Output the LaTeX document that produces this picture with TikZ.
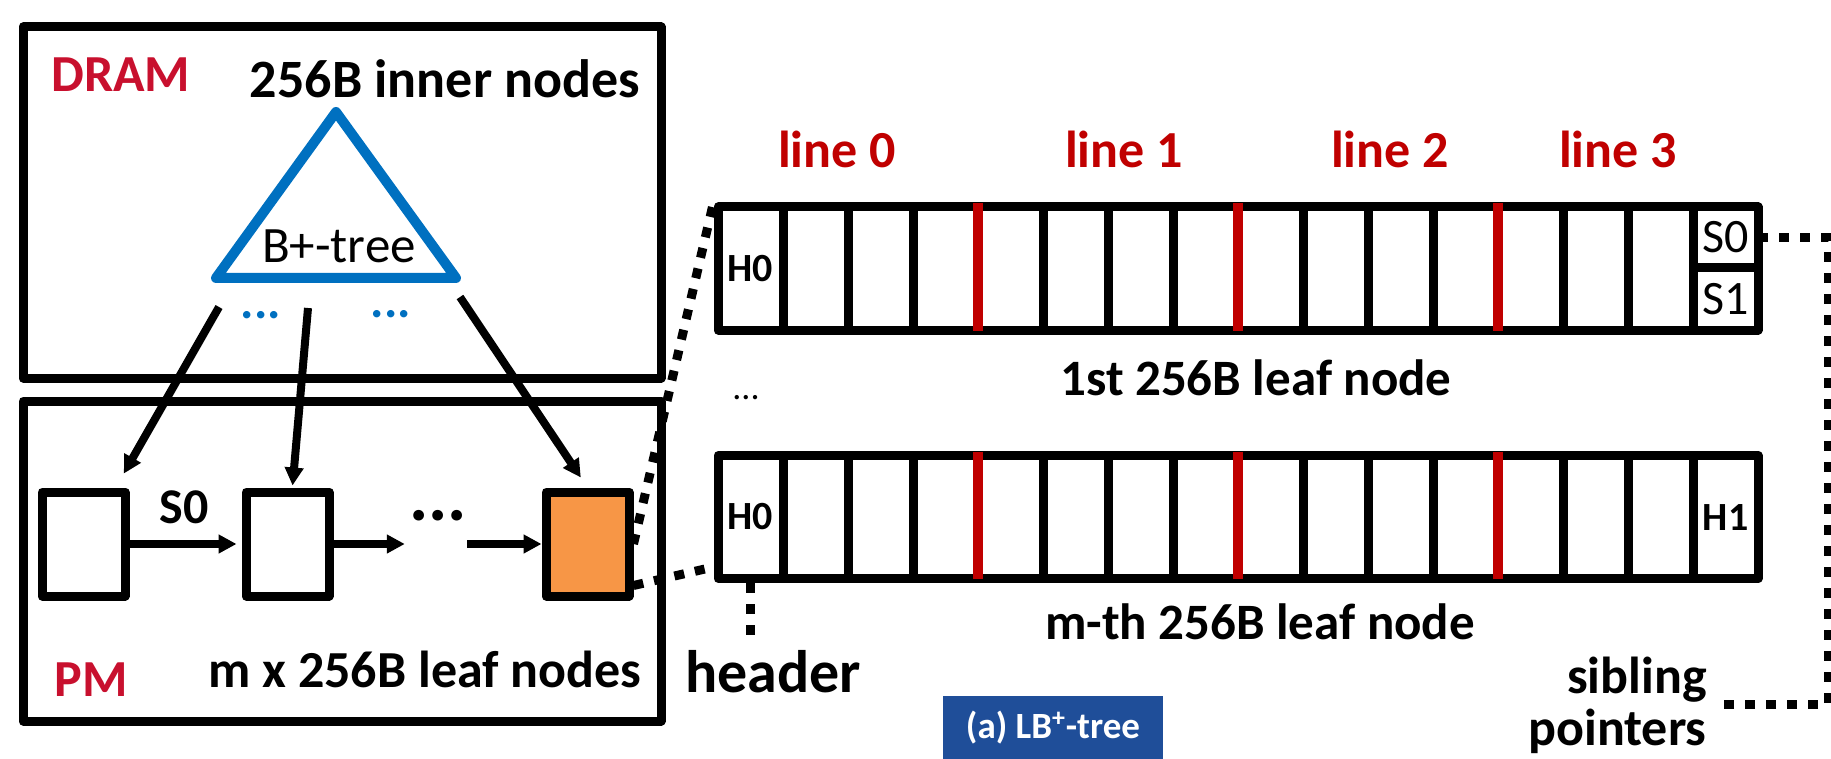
\documentclass[tikz,border=0pt]{standalone}
\usepackage{fontspec}
\setmainfont{Carlito}
\usetikzlibrary{arrows.meta,calc}
\definecolor{dramred}{HTML}{C8102E}
\definecolor{linered}{HTML}{C00000}
\definecolor{treeblue}{HTML}{0070C0}
\definecolor{leaforange}{HTML}{F79646}
\definecolor{capblue}{HTML}{1F4E99}
\begin{document}
\begin{tikzpicture}[x=0.5pt,y=-0.5pt,
  frame/.style={draw, line width=4.5pt, line join=round, inner sep=0pt},
  leafbox/.style={frame, minimum width=41.5pt, minimum height=52pt},
  rowbox/.style={frame, minimum width=520pt, minimum height=61.5pt},
  bigtxt/.style={font=\bfseries\fontsize{26}{31}\selectfont, inner sep=0pt},
  celltxt/.style={font=\bfseries\fontsize{20}{24}\selectfont, inner sep=0pt, minimum width=32.5pt},
  ptrtxt/.style={font=\fontsize{24}{29}\selectfont, inner sep=0pt, minimum width=32.5pt, minimum height=30.5pt},
  arr/.style={line width=4pt, -{Triangle[length=9pt,width=9pt]}},
  dotline/.style={line width=4.5pt, dash pattern=on 5pt off 5.5pt},
  divider/.style={line width=4.5pt},
  reddivider/.style={line width=5pt, linered},
]
\useasboundingbox (0,0) rectangle (1831,759);

% ---------- left: DRAM and PM ----------
\node[frame, minimum width=319pt, minimum height=175.5pt] (dram) at (342,202.5) {};
\node[frame, minimum width=319pt, minimum height=160pt] (pm) at (342,561) {};

\node[bigtxt, text=dramred, anchor=base west] (dramlbl) at (51,92) {DRAM};
\node[bigtxt, font=\bfseries\fontsize{27}{32}\selectfont, anchor=base] (inner) at (445,98) {256B inner nodes};
\node[bigtxt, text=dramred, anchor=base west] (pmlbl) at (54,696) {PM};
\node[bigtxt, anchor=base] (leafs) at (425,687) {m x 256B leaf nodes};

% B+-tree triangle
\draw[treeblue, line width=5pt, line join=round] (336,112) -- (216,278) -- (456,278) -- cycle;
\node[font=\fontsize{25.5}{30}\selectfont, inner sep=0pt, anchor=base] (btree) at (339,263) {B+-tree};
\node[text=treeblue, font=\bfseries\fontsize{25}{30}\selectfont, inner sep=0pt] (bd1) at (261,315) {...};
\node[text=treeblue, font=\bfseries\fontsize{25}{30}\selectfont, inner sep=0pt] (bd2) at (391,314) {...};

% leaf nodes in PM
\node[leafbox] (box1) at (83.5,544) {};
\node[leafbox] (box2) at (287.5,544) {};
\node[leafbox, fill=leaforange] (box3) at (587.5,544) {};
\node[bigtxt, font=\bfseries\fontsize{25}{30}\selectfont] (s0lbl) at (184,507) {S0};
\node[bigtxt, font=\bfseries\fontsize{36}{42}\selectfont] (dots) at (438,516) {...};

\coordinate (t1) at (219,307);
\coordinate (t2) at (308,308);
\coordinate (t3) at (460,297);
\draw[arr, shorten >=8pt] (t1) -- (box1);
\draw[arr, shorten >=1pt] (t2) -- (box2);
\draw[arr, shorten >=6pt] (t3) -- (box3.north);

\draw[arr, shorten >=2.5pt] (box1.east) -- (box2.west);
\draw[arr, shorten >=2pt] (box2.east) -- (box2.east -| dots.west);
\draw[arr] (box2.east -| dots.east) -- (box3.west);

% ---------- right: leaf node layout ----------
\node[rowbox] (row1) at (1238,268.5) {};
\node[rowbox] (row2) at (1238,517) {};
\foreach \k in {1,2,3,5,6,7,9,10,11,13,14,15}{
  \draw[divider] (718+65*\k,207) -- (718+65*\k,330);
  \draw[divider] (718+65*\k,456) -- (718+65*\k,578);
}
\foreach \k in {4,8,12}{
  \draw[reddivider] (718+65*\k,203) -- (718+65*\k,331);
  \draw[reddivider] (718+65*\k,452) -- (718+65*\k,579);
}
\draw[divider] (1693,268) -- (1758,268);

\node[celltxt] (h0a) at (750.5,268.5) {H0};
\node[celltxt] (h0b) at (750.5,517) {H0};
\node[celltxt] (h1) at (1725.5,517.5) {H1};
\node[ptrtxt] (s0) at (1725.5,237.5) {S0};
\node[ptrtxt] (s1) at (1725.5,299) {S1};

\node[bigtxt, text=linered, anchor=base] (l0) at (837,168) {line 0};
\node[bigtxt, text=linered, anchor=base] (l1) at (1124,168) {line 1};
\node[bigtxt, text=linered, anchor=base] (l2) at (1390,168) {line 2};
\node[bigtxt, text=linered, anchor=base] (l3) at (1618,168) {line 3};

\node[bigtxt, font=\bfseries\fontsize{25.5}{30}\selectfont, anchor=base] (first) at (1256,395) {1st 256B leaf node};
\node[bigtxt, font=\bfseries\fontsize{25.5}{30}\selectfont, anchor=base] (mth) at (1260,639) {m-th 256B leaf node};
\node[font=\fontsize{18}{22}\selectfont, inner sep=0pt] (vdots) at (746,398) {...};

\node[bigtxt, font=\bfseries\fontsize{30}{36}\selectfont, anchor=base] (header) at (773,692) {header};
\node[bigtxt, anchor=base east] (sib1) at (1707,693) {sibling};
\node[bigtxt, anchor=base east] (sib2) at (1707,745) {pointers};

% zoom connectors
\draw[dotline] (box3.east) -- (row1.north west);
\draw[dotline] ($(box3.south east)+(0,-15)$) -- ($(row2.south west)+(0,-16)$);

% header pointer
\coordinate (hdrtop) at (750.5,638);
\draw[dotline] (h0b |- row2.south) -- (hdrtop);

% sibling pointers
\coordinate (sibR) at (1828,704);
\coordinate (sibend) at (1720,704);
\draw[dotline] (s0.east) -| (sibR) -- (sibend);

% caption
\node[fill=capblue, text=white, font=\bfseries\fontsize{18.5}{22}\selectfont, minimum width=110pt, minimum height=32pt, inner sep=0pt] (cap) at (1053,728) {(a) LB\textsuperscript{+}-tree};
\end{tikzpicture}
\end{document}
